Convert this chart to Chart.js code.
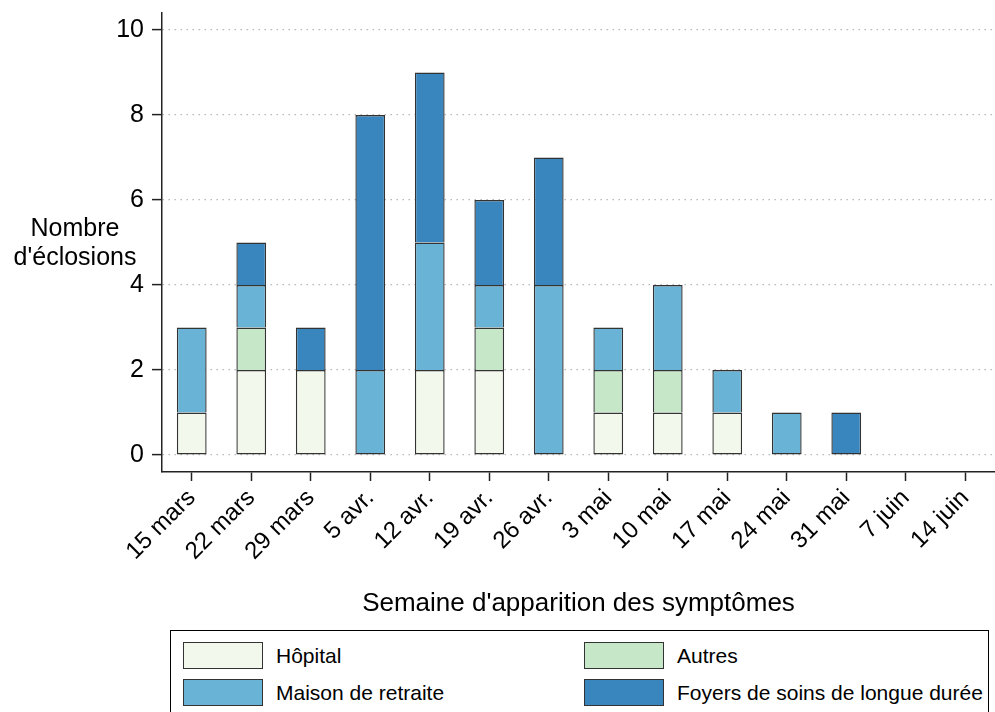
<!DOCTYPE html>
<html>
<head>
<meta charset="utf-8">
<script src="https://cdn.jsdelivr.net/npm/chart.js@4/dist/chart.umd.min.js"></script>
<style>
    html, body { margin: 0; padding: 0; background: #fff; overflow: hidden; }
    body { width: 995px; height: 712px; position: relative; font-family: "Liberation Sans", Arial, sans-serif; }
    #wrap { position: absolute; left: 0; top: 0; width: 995px; height: 625px; }
    #ytitle { position: absolute; left: 0; top: 213px; width: 150px; text-align: center;
              font-size: 25px; line-height: 29px; color: #000; }
    #legend { position: absolute; left: 170px; top: 630px; width: 819px; height: 100px;
              border: 1px solid #000; box-sizing: border-box; }
    .item { position: absolute; font-size: 21px; color: #000; line-height: 27px; white-space: nowrap; }
    .item span { display: inline-block; width: 78px; height: 25px; border: 1px solid #333;
                 vertical-align: top; margin-right: 13px; }
</style>
</head>
<body>
<div id="wrap"><canvas id="myChart"></canvas></div>
<div id="ytitle">Nombre<br>d'éclosions</div>
<div id="legend"></div>
<script>
    'use strict';

    var weeks = [ "15 mars", "22 mars", "29 mars", "5 avr.", "12 avr.", "19 avr.", "26 avr.",
                  "3 mai", "10 mai", "17 mai", "24 mai", "31 mai", "7 juin", "14 juin" ];
    var hopital = [ 1, 2, 2, 0, 2, 2, 0, 1, 1, 1, 0, 0, 0, 0 ];
    var autres = [ 0, 1, 0, 0, 0, 1, 0, 1, 1, 0, 0, 0, 0, 0 ];
    var maisonRetraite = [ 2, 1, 0, 2, 3, 1, 4, 1, 2, 1, 1, 0, 0, 0 ];
    var foyersSoins = [ 0, 1, 1, 6, 4, 2, 3, 0, 0, 0, 0, 1, 0, 0 ];
    var yTicks = [ 0, 2, 4, 6, 8, 10 ];

    var series = [
        { label: "Hôpital", data: hopital, color: "#f2f8ec" },
        { label: "Autres", data: autres, color: "#c6e8c8" },
        { label: "Maison de retraite", data: maisonRetraite, color: "#69b4d6" },
        { label: "Foyers de soins de longue durée", data: foyersSoins, color: "#3986bf" }
    ];

    // legend laid out 2 x 2 like the original
    var legendPos = [ [ 12, 11 ], [ 413, 11 ], [ 12, 48 ], [ 413, 48 ] ];
    var legend = document.getElementById("legend");
    series.forEach(function(s, i) {
        var div = document.createElement("div");
        div.className = "item";
        div.style.left = legendPos[i][0] + "px";
        div.style.top = legendPos[i][1] + "px";
        div.innerHTML = '<span style="background:' + s.color + '"></span>' + s.label;
        legend.appendChild(div);
    });

    // only the lowest segment of a stack keeps its bottom edge, so joins get one line
    function skipEdge(c) {
        for (var k = 0; k < c.datasetIndex; k++) {
            if (series[k].data[c.dataIndex] > 0) return 'bottom';
        }
        return false;
    }

    var ctx = document.getElementById("myChart");
    var myChart = new Chart(ctx, {
        type: 'bar',
        data: {
            labels: weeks,
            datasets: series.map(function(s) {
                return {
                    label: s.label,
                    data: s.data.map(function(v) { return v === 0 ? null : v; }),
                    backgroundColor: s.color,
                    borderColor: "#333",
                    borderWidth: 1.4,
                    borderSkipped: skipEdge,
                    barPercentage: 0.5,
                    categoryPercentage: 1.0
                };
            })
        },
        options: {
            responsive: true,
            maintainAspectRatio: false,
            animation: false,
            layout: { padding: { top: 13, right: 0, bottom: 0, left: 0 } },
            plugins: {
                legend: { display: false },
                tooltip: { enabled: false }
            },
            scales: {
                x: {
                    stacked: true,
                    offset: true,
                    afterFit: function(scale) { scale.height = 153; },
                    grid: {
                        display: true,
                        offset: false,
                        drawOnChartArea: false,
                        drawTicks: true,
                        tickLength: 9,
                        tickColor: "#222",
                        tickWidth: 1.5
                    },
                    border: { display: true, color: "#222", width: 1.5 },
                    ticks: {
                        color: "#000",
                        font: { family: "Liberation Sans", size: 24 },
                        minRotation: 45,
                        maxRotation: 45,
                        autoSkip: false,
                        padding: 3
                    },
                    title: {
                        display: true,
                        text: "Semaine d'apparition des symptômes",
                        color: "#000",
                        font: { family: "Liberation Sans", size: 26 },
                        padding: { top: 0, bottom: 6 }
                    }
                },
                y: {
                    stacked: true,
                    min: -0.4,
                    max: 10.4,
                    afterFit: function(scale) {
                        scale.width = 162;
                        scale.paddingTop = 0;
                        scale.paddingBottom = 0;
                    },
                    afterBuildTicks: function(scale) {
                        scale.ticks = yTicks.map(function(v) { return { value: v }; });
                    },
                    grid: {
                        display: true,
                        color: "#b8b8b8",
                        lineWidth: 1.2,
                        drawTicks: true,
                        tickLength: 10,
                        tickColor: "#222",
                        tickWidth: 1.5,
                        tickBorderDash: []
                    },
                    border: { display: true, color: "#222", width: 1.5, dash: [ 1.5, 4.5 ] },
                    ticks: {
                        color: "#000",
                        font: { family: "Liberation Sans", size: 25 },
                        padding: 8
                    }
                }
            }
        }
    });
</script>
</body>
</html>
